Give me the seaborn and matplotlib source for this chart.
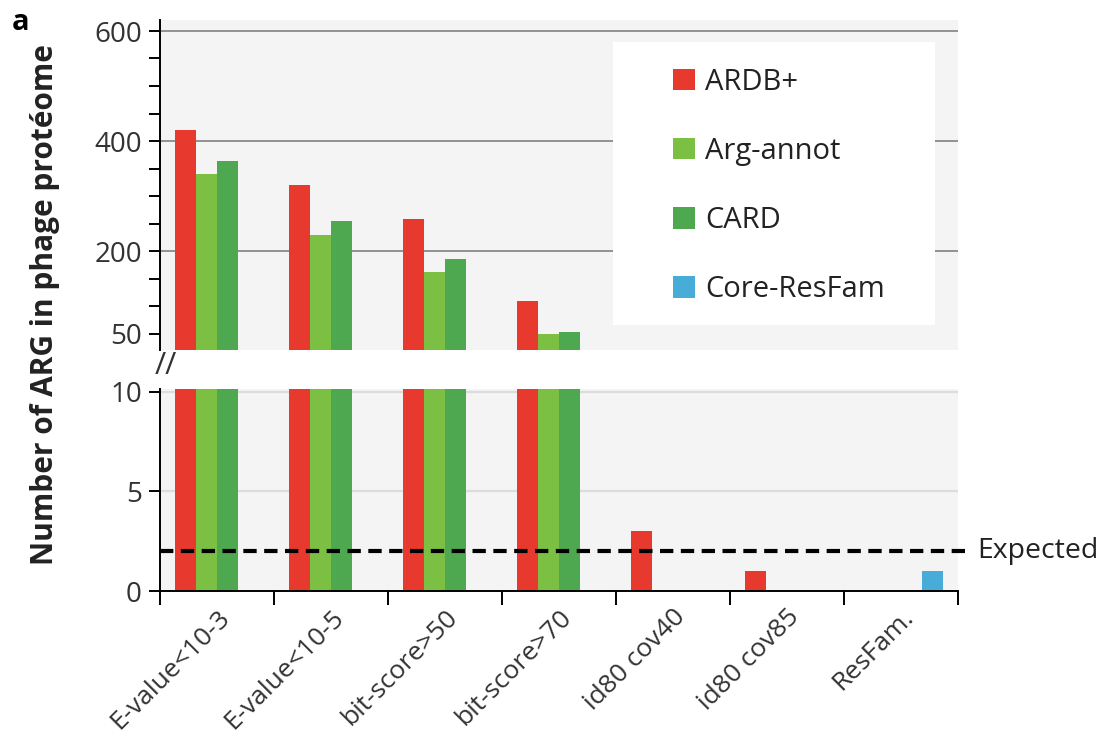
import numpy as np
import pandas as pd
import matplotlib
matplotlib.use('Agg')
import matplotlib.pyplot as plt
from matplotlib.patches import Rectangle
import seaborn as sns

# valeurs
categories = ['E-value<10-3', 'E-value<10-5', 'bit-score>50', 'bit-score>70',
              'id80 cov40', 'id80 cov85', 'ResFam.']
series = ['ARDB+', 'Arg-annot', 'CARD', 'Core-ResFam']
ardb = [420, 320, 259, 109, 3, 1, 0]
arg_annot = [340, 229, 161, 49, 0, 0, 0]
card = [363, 255, 186, 52, 0, 0, 0]
core_resfam = [0, 0, 0, 0, 0, 0, 1]
expected = 2
colors = ['#e8392f', '#7cc043', '#4ea84f', '#48acd9']

rows = []
for name, vals in zip(series, [ardb, arg_annot, card, core_resfam]):
    for c, v in zip(categories, vals):
        rows.append({'cat': c, 'db': name, 'n': v})
df = pd.DataFrame(rows)
pal = dict(zip(series, colors))

plt.rcParams['font.family'] = ['Open Sans', 'DejaVu Sans']
W, H = 1104, 740
fig = plt.figure(figsize=(W / 100, H / 100), dpi=100)
ax_top = fig.add_axes([160 / W, 1 - 350 / H, 798 / W, 330 / H])
ax_bot = fig.add_axes([160 / W, 1 - 591 / H, 798 / W, 202 / H])

for ax in (ax_top, ax_bot):
    sns.barplot(data=df, x='cat', y='n', hue='db', order=categories,
                hue_order=series, palette=pal, width=0.74, linewidth=0,
                saturation=1, ax=ax, zorder=2)
    ax.set_facecolor('#f4f4f4')
    ax.set_xlim(-0.5, 6.5)
    ax.set_xlabel('')
    ax.set_ylabel('')
    for s in ('top', 'right'):
        ax.spines[s].set_visible(False)
    ax.spines['left'].set_linewidth(1.4)
    ax.tick_params(axis='y', labelsize=20, labelcolor='#333333',
                   width=1.4, length=8, pad=5)

handles, labels = ax_top.get_legend_handles_labels()
ax_top.legend_.remove()
ax_bot.legend_.remove()

# haut : 20 - 620
ax_top.set_ylim(20, 620)
ax_top.set_yticks(np.arange(50, 601, 50))
ax_top.set_yticklabels(['50' if v == 50 else (str(v) if v in (200, 400, 600) else '')
                        for v in range(50, 601, 50)])
ax_top.spines['bottom'].set_visible(False)
ax_top.set_xticks([])
for v in (200, 400, 600):
    ax_top.axhline(v, color='#8a8a8a', lw=1.3, zorder=0.5)

# bas : 0 - 10
ax_bot.set_ylim(0, 10.15)
ax_bot.set_yticks([0, 5, 10])
for v in (5, 10):
    ax_bot.axhline(v, color='#dcdcdc', lw=1.6, zorder=0.5)
ax_bot.spines['bottom'].set_linewidth(1.4)
ax_bot.set_xticks(np.arange(-0.5, 7, 1))
ax_bot.set_xticklabels([])
ax_bot.tick_params(axis='x', which='major', length=10, width=1.4)
ax_bot.set_xticks(np.arange(7), minor=True)
ax_bot.set_xticklabels(categories, minor=True, rotation=45, ha='right',
                       va='top', rotation_mode='anchor', fontsize=19,
                       color='#333333')
ax_bot.tick_params(axis='x', which='minor', length=0, pad=10)

# ligne "Expected"
ax_bot.plot([-0.5, 6.6], [expected, expected], ls=(0, (3.2, 1.8)), color='k',
            lw=3, clip_on=False, zorder=5)
ax_bot.text(6.67, expected, 'Expected', fontsize=20.5, va='center', ha='left',
            color='#222222')

# légende dans un cadre blanc
ax_top.add_patch(Rectangle((0.568, 0.076), 0.4035, 0.857, transform=ax_top.transAxes,
                           facecolor='white', edgecolor='none', zorder=3))
leg = ax_top.legend(handles, labels, loc='upper left', bbox_to_anchor=(0.625, 0.9),
                    frameon=False, fontsize=21, labelspacing=1.38, borderpad=0,
                    handlelength=0.75, handleheight=0.75, handletextpad=0.35)
leg.set_zorder(4)
for t in leg.get_texts():
    t.set_color('#222222')

fig.text(45 / W, 1 - 305 / H, 'Number of ARG in phage protéome', rotation=90,
         fontsize=21.5, fontweight='bold', ha='center', va='center', color='#222222')
fig.text(12 / W, 1 - 22 / H, 'a', fontsize=21, fontweight='bold', va='center')
fig.text(166 / W, 1 - 366 / H, '//', fontsize=22, ha='center', va='center',
         color='#333333')

fig.savefig('out.png', dpi=100)
